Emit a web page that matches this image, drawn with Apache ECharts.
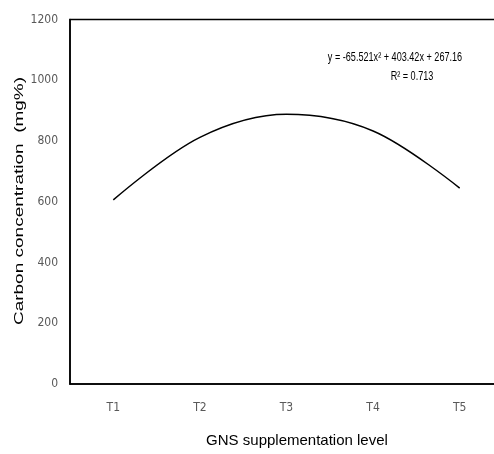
<!DOCTYPE html>
<html>
<head>
<meta charset="utf-8">
<script src="https://cdn.jsdelivr.net/npm/echarts@6/dist/echarts.min.js"></script>
<style>
  html, body { margin: 0; padding: 0; background: #fff; }
  #chart { width: 494px; height: 454px; }
</style>
</head>
<body>
<div id="chart"></div>
<script>
// levels on the x axis
const levels = ['T1', 'T2', 'T3', 'T4', 'T5'];
// trendline values (mg%)
const carbon = [606, 812, 888, 833, 645];
// y axis ticks
const yTicks = [0, 200, 400, 600, 800, 1000, 1200];

const narrow = '"Liberation Sans Narrow", "DejaVu Sans Condensed", "Arial Narrow", sans-serif';
const arial = '"Liberation Sans", Arial, sans-serif';

const chart = echarts.init(document.getElementById('chart'));

chart.setOption({
  backgroundColor: '#fff',
  animation: false,
  grid: {
    left: 70,
    right: -9,
    top: 19.5,
    bottom: 70,
    outerBoundsMode: 'none',
    containLabel: false,
    show: true,
    borderColor: '#000',
    borderWidth: 1.5
  },
  xAxis: {
    type: 'category',
    data: levels,
    boundaryGap: true,
    name: 'GNS supplementation level',
    nameLocation: 'middle',
    nameGap: 49,
    nameTextStyle: {
      fontFamily: arial,
      fontSize: 15,
      color: '#000',
      padding: [0, 0, 0, 21]
    },
    axisLine: { lineStyle: { color: '#000', width: 1.5 } },
    axisTick: { show: false },
    axisLabel: {
      color: '#595959',
      fontFamily: narrow,
      fontSize: 12,
      margin: 18
    }
  },
  yAxis: {
    type: 'value',
    min: yTicks[0],
    max: yTicks[yTicks.length - 1],
    interval: yTicks[1] - yTicks[0],
    axisLine: { show: true, lineStyle: { color: '#000', width: 1.5 } },
    axisTick: { show: false },
    splitLine: { show: false },
    axisLabel: {
      color: '#595959',
      fontFamily: narrow,
      fontSize: 12,
      margin: 12,
      formatter: (v) => String(v)
    }
  },
  graphic: [
    {
      // y axis title, tall and narrow like the original
      type: 'text',
      x: 19,
      y: 201,
      rotation: Math.PI / 2,
      scaleY: 0.72,
      style: {
        text: 'Carbon concentration  (mg%)',
        fontFamily: arial,
        fontSize: 19,
        fill: '#000',
        align: 'center',
        verticalAlign: 'middle'
      }
    },
    {
      type: 'text',
      x: 395,
      y: 51,
      scaleX: 0.7,
      style: {
        text: 'y = -65.521x² + 403.42x + 267.16',
        fontFamily: arial,
        fontSize: 13,
        fill: '#000',
        align: 'center'
      }
    },
    {
      type: 'text',
      x: 412,
      y: 70,
      scaleX: 0.7,
      style: {
        text: 'R² = 0.713',
        fontFamily: arial,
        fontSize: 13,
        fill: '#000',
        align: 'center'
      }
    }
  ],
  series: [
    {
      type: 'line',
      data: carbon,
      smooth: 0.35,
      showSymbol: false,
      symbol: 'none',
      lineStyle: { color: '#000', width: 1.5 }
    }
  ]
});
</script>
</body>
</html>
